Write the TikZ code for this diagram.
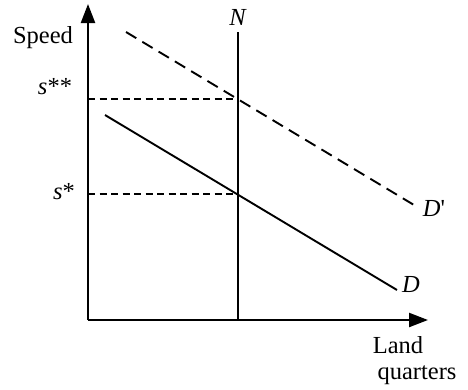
\documentclass[tikz,border=0pt]{standalone}
\usepackage{fontspec}
\setmainfont{Liberation Serif}
\usetikzlibrary{arrows.meta}
\begin{document}
\begin{tikzpicture}[x=1pt,y=-1pt,
  lbl/.style={font=\fontsize{24.5}{27}\selectfont, inner sep=0pt},
  axis/.style={line width=2.3pt, -{Triangle[length=19pt,width=14pt]}},
  curve/.style={line width=1.9pt},
  dcurve/.style={line width=1.9pt, dash pattern=on 12pt off 7pt},
  guide/.style={line width=1.5pt, dash pattern=on 7pt off 4.5pt}]
\useasboundingbox (0,0) rectangle (468,389);
\coordinate (O) at (88,320);
\coordinate (Ytop) at (88,4);
\coordinate (Xend) at (428,320);
\coordinate (Ntop) at (238,32);
\coordinate (Nbot) at (238,320);
\coordinate (Ds) at (105,115);
\coordinate (De) at (397,290);
\coordinate (Dps) at (126,32);
\coordinate (Dpe) at (414,205);
\coordinate (Sss) at (88,99);
\coordinate (Sssn) at (238,99);
\coordinate (Ss) at (88,194);
\coordinate (Ssn) at (238,194);
\draw[axis] (O) -- (Ytop);
\draw[axis] (O) -- (Xend);
\draw[line width=2.2pt] (Nbot) -- (Ntop);
\draw[curve] (Ds) -- (De);
\draw[dcurve] (Dps) -- (Dpe);
\draw[guide] (Sss) -- (Sssn);
\draw[guide] (Ss) -- (Ssn);
\node[lbl] (speed) at (43,38) {Speed};
\node[lbl] (sss) at (55,87) {\textit{s}**};
\node[lbl] (ss) at (64,192) {\textit{s}*};
\node[lbl] (N) at (238,17) {\textit{N}};
\node[lbl] (Dl) at (411,284) {\textit{D}};
\node[lbl] (Dpl) at (434,208) {\textit{D}\textquotesingle};
\node[lbl] (land) at (398,345) {Land};
\node[lbl] (quarters) at (417,375) {quarters};
\end{tikzpicture}
\end{document}
